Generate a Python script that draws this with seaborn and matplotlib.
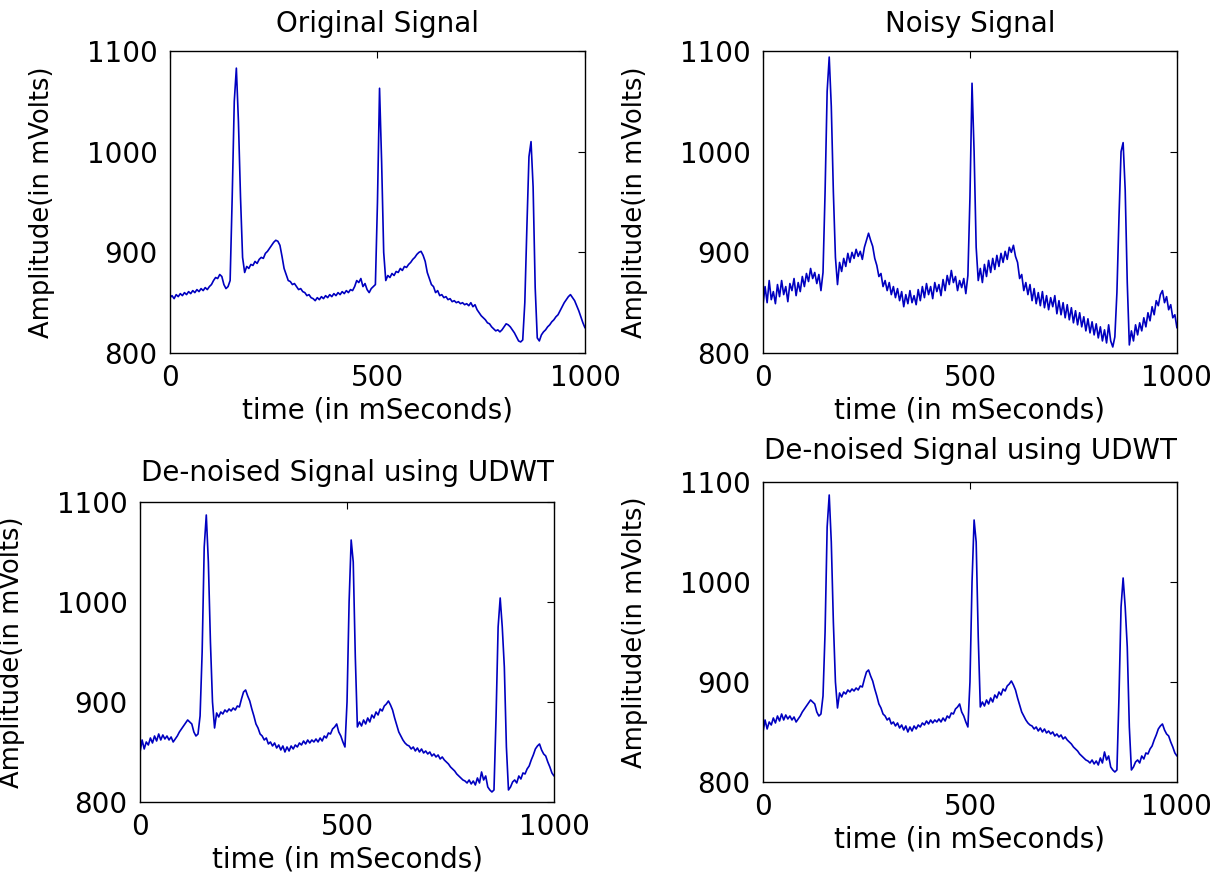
import numpy as np
import matplotlib
matplotlib.use("Agg")
import matplotlib.pyplot as plt
import seaborn as sns

# sample times (ms), one value every 5 ms
time_ms = np.arange(0, 1001, 5)

# values, mVolts
original_signal = [
    855, 857, 854, 858, 856, 859, 857, 860, 858, 861,
    859, 862, 860, 863, 861, 864, 862, 865, 863, 866,
    868, 872, 875, 874, 878, 876, 868, 864, 866, 872,
    955, 1050, 1083, 1030, 955, 895, 880, 886, 884, 888,
    887, 891, 889, 893, 895, 894, 899, 901, 904, 907,
    910, 912, 911, 907, 896, 884, 878, 872, 871, 868,
    869, 866, 863, 864, 861, 860, 857, 858, 855, 854,
    852, 855, 853, 856, 854, 857, 855, 858, 856, 859,
    857, 860, 858, 861, 859, 862, 860, 863, 862, 866,
    872, 870, 874, 866, 869, 863, 860, 864, 866, 868,
    950, 1063, 990, 900, 872, 877, 875, 879, 877, 881,
    880, 884, 882, 886, 885, 888, 890, 893, 895, 898,
    900, 901, 897, 891, 880, 874, 868, 866, 860, 862,
    857, 858, 855, 856, 853, 854, 851, 852, 850, 851,
    849, 850, 848, 849, 847, 850, 846, 848, 843, 840,
    837, 835, 833, 830, 829, 826, 824, 822, 823, 821,
    823, 826, 829, 828, 826, 823, 820, 816, 812, 811,
    813, 850, 925, 995, 1010, 965, 865, 815, 812, 818,
    821, 823, 826, 828, 831, 833, 836, 838, 842, 846,
    850, 853, 856, 858, 855, 852, 847, 842, 836, 830,
    825,
]

noisy_signal = [
    848, 866, 850, 872, 853, 861, 849, 868, 856, 872,
    858, 866, 851, 869, 862, 874, 857, 870, 861, 876,
    866, 879, 871, 884, 874, 880, 869, 878, 862, 880,
    960, 1060, 1094, 1045, 960, 895, 868, 890, 881, 894,
    886, 899, 890, 900, 894, 903, 896, 901, 893, 905,
    912, 919, 912, 906, 894, 887, 876, 879, 866, 872,
    862, 870, 858, 866, 855, 864, 852, 861, 846, 858,
    849, 862, 850, 857, 848, 863, 852, 866, 855, 869,
    858, 866, 854, 870, 861, 868, 857, 873, 862, 877,
    868, 882, 870, 876, 862, 872, 865, 874, 859, 877,
    955, 1068, 1000, 905, 872, 884, 870, 888, 876, 892,
    880, 894, 883, 897, 886, 899, 890, 901, 893, 905,
    900, 907, 896, 890, 874, 878, 862, 870, 858, 868,
    852, 864, 849, 860, 847, 861, 845, 857, 843, 855,
    846, 857, 839, 852, 838, 850, 835, 848, 833, 845,
    830, 842, 828, 840, 826, 836, 822, 834, 820, 831,
    818, 829, 815, 826, 812, 823, 810, 828, 812, 806,
    816, 860, 935, 1000, 1009, 962, 870, 808, 822, 812,
    828, 818, 830, 822, 835, 826, 840, 832, 846, 838,
    852, 847, 858, 862, 850, 856, 843, 848, 835, 838,
    825,
]

denoised_signal = [
    850, 862, 853, 860, 857, 864, 859, 866, 861, 868,
    862, 867, 863, 866, 862, 865, 860, 863, 866, 870,
    873, 876, 879, 882, 880, 878, 870, 866, 868, 886,
    950, 1055, 1087, 1040, 960, 900, 874, 889, 885, 890,
    888, 892, 890, 893, 891, 894, 892, 896, 895, 903,
    910, 912, 906, 901, 893, 886, 878, 874, 868, 866,
    862, 864, 858, 860, 856, 859, 854, 857, 852, 856,
    850, 855, 851, 856, 853, 857, 855, 859, 857, 861,
    858, 862, 859, 862, 860, 863, 860, 864, 861, 866,
    864, 869, 868, 873, 875, 878, 870, 866, 860, 855,
    900, 1000, 1062, 1040, 945, 875, 880, 876, 882, 878,
    884, 880, 887, 884, 890, 887, 893, 891, 896, 898,
    901, 897, 892, 884, 877, 870, 866, 862, 859, 857,
    856, 853, 855, 851, 854, 850, 853, 849, 851, 848,
    850, 846, 848, 845, 847, 843, 845, 842, 840, 838,
    835, 833, 831, 828, 826, 824, 822, 821, 819, 822,
    818, 821, 817, 824, 819, 830, 822, 826, 815, 812,
    810, 812, 885, 975, 1004, 975, 935, 855, 812, 815,
    820, 822, 819, 826, 823, 829, 828, 833, 836, 842,
    847, 853, 856, 858, 852, 848, 846, 840, 835, 829,
    826,
]

titles = ["Original Signal", "Noisy Signal",
          "De-noised Signal using UDWT", "De-noised Signal using UDWT"]
x_ticks = [0, 500, 1000]
y_ticks = [800, 900, 1000, 1100]

sns.set_style("white")
plt.rcParams["font.family"] = ["DejaVu Sans"]
plt.rcParams["text.color"] = "black"
plt.rcParams["axes.labelcolor"] = "black"

fig = plt.figure(figsize=(12.2, 8.81), dpi=100)

# left, bottom, width, height in figure fractions
boxes = [
    [0.1393, 0.5993, 0.3402, 0.3428],
    [0.6254, 0.5993, 0.3393, 0.3428],
    [0.1148, 0.0897, 0.3393, 0.3405],
    [0.6254, 0.1124, 0.3393, 0.3405],
]
signals = [original_signal, noisy_signal, denoised_signal, denoised_signal]
title_pads = [14, 14, 15, 16.5]

line_color = "#0000c0"

for box, sig, title, tpad in zip(boxes, signals, titles, title_pads):
    ax = fig.add_axes(box)
    sns.lineplot(x=time_ms, y=sig, ax=ax, color=line_color, linewidth=1.2)
    ax.set_xlim(0, 1000)
    ax.set_ylim(800, 1100)
    ax.set_xticks(x_ticks)
    ax.set_yticks(y_ticks)
    ax.tick_params(direction="in", top=True, right=True, length=5,
                   width=0.8, labelsize=20, colors="black")
    ax.tick_params(axis="x", pad=8)
    ax.tick_params(axis="y", pad=9)
    for sp in ax.spines.values():
        sp.set_color("black")
        sp.set_linewidth(1.0)
    ax.set_title(title, fontsize=20, pad=tpad, color="black")
    ax.set_xlabel("time (in mSeconds)", fontsize=20, labelpad=3)
    ax.set_ylabel("Amplitude(in mVolts)", fontsize=18.5)
    ax.yaxis.set_label_coords(-0.278, 0.5)

fig.savefig("out.png", dpi=100, facecolor="white")
